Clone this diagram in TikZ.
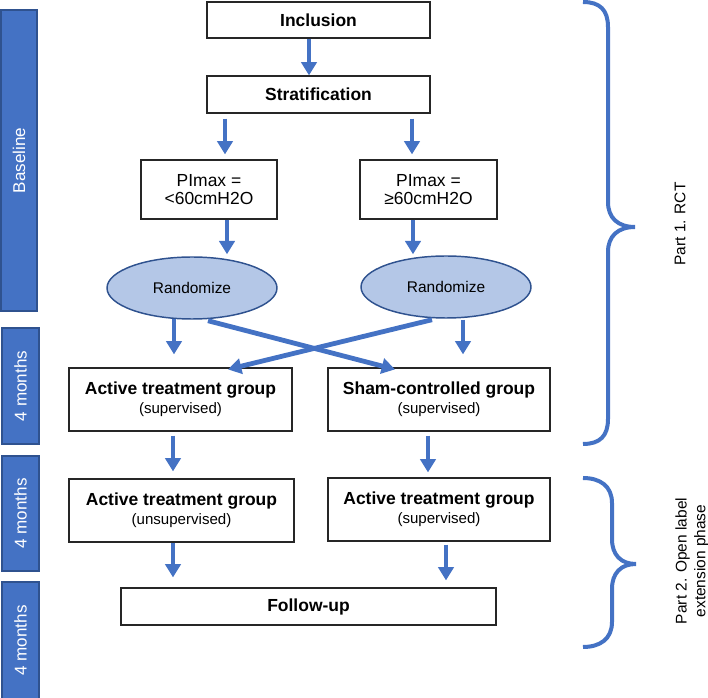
\documentclass[tikz,border=0pt]{standalone}
\usepackage{fontspec}
\setmainfont{Liberation Sans}
\usetikzlibrary{arrows.meta,shapes.geometric,calc}
\definecolor{myblue}{HTML}{4472C4}
\definecolor{darkblue}{HTML}{2F528F}
\definecolor{lightblue}{HTML}{B4C7E7}
\newcommand{\tkTitle}{\fontsize{13.1}{15}\selectfont\bfseries}
\newcommand{\tkSub}{\fontsize{11.3}{15}\selectfont\mdseries}
\newcommand{\tkPl}{\fontsize{13.1}{14}\selectfont}
\begin{document}
\begin{tikzpicture}[x=0.75pt,y=-0.75pt,
  box/.style={draw=black!85, line width=0.9pt, fill=white, align=center, inner sep=0pt},
  bx/.style 2 args={minimum width={#1*0.75pt}, minimum height={#2*0.75pt}},
  oval/.style={ellipse, draw=darkblue, line width=1.1pt, fill=lightblue, inner sep=0pt,
     font=\fontsize{11.6}{14}\selectfont},
  arr/.style={draw=myblue, line width=3.6pt, -{Triangle[width=11.5pt,length=10pt]}},
  barbox/.style={draw=darkblue, line width=0.9pt, fill=myblue, inner sep=0pt},
  barlabel/.style={rotate=90, text=white, font=\fontsize{12.8}{15}\selectfont},
  brace/.style={draw=myblue, line width=3pt},
  partlabel/.style={rotate=90, align=center, font=\fontsize{11.6}{14}\selectfont}]
\useasboundingbox (0,0) rectangle (708,698);

% left phase bars
\node[barbox, bx={36}{301}] (bar1) at (19,160.5) {};
\node[barlabel] (lab1) at (bar1.center) {Baseline};
\node[barbox, bx={37}{116}] (bar2) at (20.5,386) {};
\node[barlabel] (lab2) at (bar2.center) {4 months};
\node[barbox, bx={37}{115}] (bar3) at (20.5,513.5) {};
\node[barlabel] (lab3) at (bar3.center) {4 months};
\node[barbox, bx={37}{117}] (bar4) at (20.5,640.5) {};
\node[barlabel] (lab4) at (bar4.center) {4 months};

% boxes
\node[box, bx={223}{36}, font=\tkTitle] (incl) at (318.5,20) {Inclusion};
\node[box, bx={223}{37}, font=\tkTitle] (strat) at (318.5,94.5) {Stratification};
\node[box, bx={136}{59}, font=\tkPl] (pl1) at (209,189.5) {PImax =\\<60cmH2O};
\node[box, bx={137}{59}, font=\tkPl] (pl2) at (428.5,189.5) {PImax =\\≥60cmH2O};
\node[oval, bx={170}{62}] (rand1) at (192,288) {Randomize};
\node[oval, bx={170}{62}] (rand2) at (446,287) {Randomize};
\node[box, bx={223}{63}] (act1) at (180.5,399.5) {{\tkTitle Active treatment group}\\[2.3pt]{\tkSub (supervised)}};
\node[box, bx={222}{63}] (sham) at (439,399.5) {{\tkTitle Sham-controlled group}\\[2.3pt]{\tkSub (supervised)}};
\node[box, bx={225}{63}] (act2) at (181.5,510.5) {{\tkTitle Active treatment group}\\[2.3pt]{\tkSub (unsupervised)}};
\node[box, bx={222}{63}] (act3) at (439,509.5) {{\tkTitle Active treatment group}\\[2.3pt]{\tkSub (supervised)}};
\node[box, bx={375}{37}, font=\tkTitle] (follow) at (308.5,606.5) {Follow-up};

% arrows
\draw[arr] ($(incl.south)+(-9.5,0)$) -- ($(strat.north)+(-9.5,0)$);
\draw[arr] ($(strat.south)+(-93.5,5)$) -- ($(pl1.north)+(16,-5)$);
\draw[arr] ($(strat.south)+(93.5,5)$) -- ($(pl2.north)+(-16.5,-5)$);
\draw[arr] ($(pl1.south)+(18,0)$) -- ($(rand1.north)+(35,-2)$);
\draw[arr] ($(pl2.south)+(-15.5,0)$) -- ($(rand2.north)+(-33,-1)$);
\draw[arr] ($(rand1.south)+(-18,-1)$) -- ($(act1.north)+(-6.5,-13)$);
\draw[arr] ($(rand2.south)+(17,1)$) -- ($(sham.north)+(24,-13)$);
\draw[arr] ($(rand1.south)+(16,1)$) -- ($(sham.north)+(-44,2)$);
\draw[arr] ($(rand2.south)+(-14,1)$) -- ($(act1.north)+(47.5,2)$);
\draw[arr] ($(act1.south)+(-7.5,4)$) -- ($(act2.north)+(-8.5,-7)$);
\draw[arr] ($(sham.south)+(-11,4)$) -- ($(act3.north)+(-11,-5)$);
\draw[arr] ($(act2.south)+(-8.5,0)$) -- ($(follow.north)+(-135.5,-10)$);
\draw[arr] ($(act3.south)+(7,3)$) -- ($(follow.north)+(137.5,-7)$);

% braces
\draw[brace] (583,2) .. controls (600,2) and (608,10) .. (608,27) -- (608,202)
  .. controls (608,218) and (618,227) .. (635,227)
  .. controls (618,227) and (608,236) .. (608,252) -- (608,419)
  .. controls (608,436) and (600,444) .. (583,444);
\draw[brace] (583,478) .. controls (600,478) and (612,486) .. (612,503) -- (612,539)
  .. controls (612,555) and (621,564) .. (636,564)
  .. controls (621,564) and (612,573) .. (612,589) -- (612,622)
  .. controls (612,639) and (600,647) .. (583,647);
\node[partlabel] (p1) at (680,224) {Part 1. RCT};
\node[partlabel] (p2) at (692,561) {Part 2. Open label\\extension phase};
\end{tikzpicture}
\end{document}
